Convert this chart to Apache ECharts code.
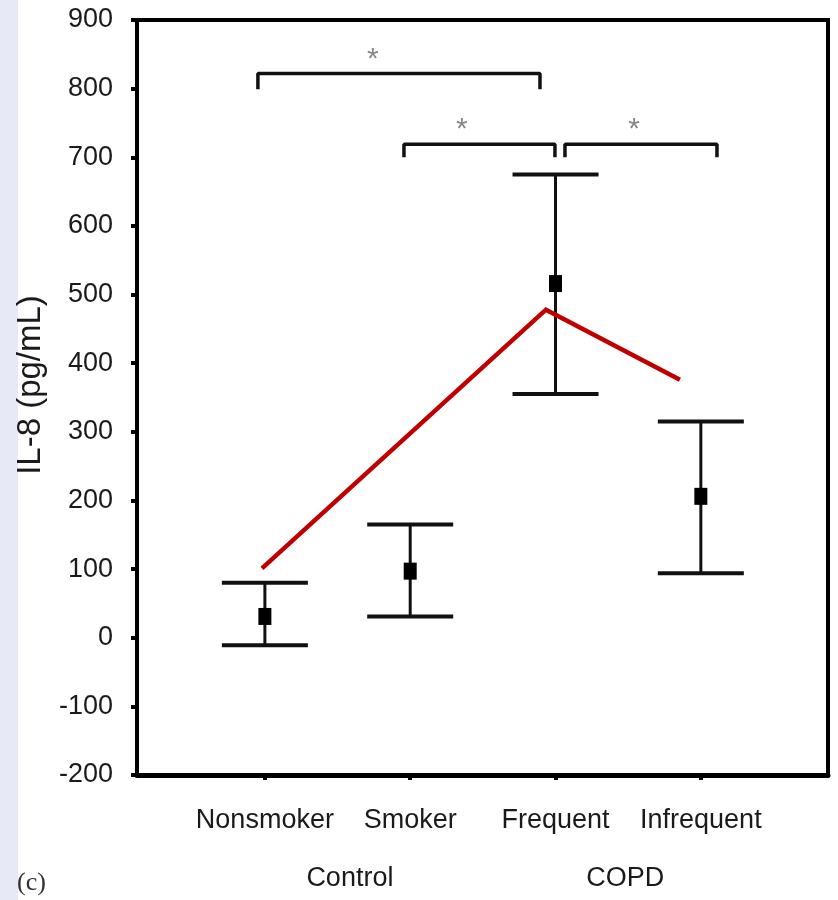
<!DOCTYPE html>
<html>
<head>
<meta charset="utf-8">
<script src="https://cdn.jsdelivr.net/npm/echarts@6/dist/echarts.min.js"></script>
<style>
  html, body { margin: 0; padding: 0; background: #ffffff; }
  #chart { width: 838px; height: 900px; }
</style>
</head>
<body>
<div id="chart"></div>
<script>
// ---- data ----
const categories = ['Nonsmoker', 'Smoker', 'Frequent', 'Infrequent'];
const catPos = [0, 1, 2, 3];
const means = [31, 97, 516, 206];
const lowErr = [-11, 31, 355, 94];
const highErr = [80, 165, 675, 315];
const groupLabels = ['Control', 'COPD'];
const groupLabelPos = [0.585, 2.48];
const yTicks = [-200, -100, 0, 100, 200, 300, 400, 500, 600, 700, 800, 900];
// red overlay line
const redX = [-0.02, 1.934, 2.856];
const redY = [101, 478, 376];
// significance brackets: [xStart, xEnd, yTop, yTickEnd]
const brackets = [
  [-0.048, 1.893, 822, 799],
  [0.957, 1.996, 719, 700],
  [2.065, 3.111, 719, 700]
];
const starX = [0.743, 1.356, 2.54];
const starY = [842, 740, 740];

const chart = echarts.init(document.getElementById('chart'), null, { renderer: 'canvas' });
const FONT = 'Liberation Sans, Arial, sans-serif';

const bracketSeries = brackets.map(b => ({
  type: 'line',
  symbol: 'none',
  silent: true,
  lineStyle: { color: '#111', width: 3.5 },
  data: [[b[0], b[3]], [b[0], b[2]], [b[1], b[2]], [b[1], b[3]]],
  z: 3
}));

const option = {
  animation: false,
  backgroundColor: '#ffffff',
  grid: {
    left: 137, right: 10, top: 20, bottom: 125,
    show: true, borderColor: '#000', borderWidth: 4, backgroundColor: 'transparent'
  },
  xAxis: [{
    type: 'value',
    min: -0.88, max: 3.875,
    splitLine: { show: false },
    axisLine: { show: true, onZero: false, lineStyle: { color: '#000', width: 5 } },
    axisTick: { show: true, customValues: catPos, length: 5, inside: false, lineStyle: { color: '#000', width: 4 } },
    axisLabel: {
      customValues: catPos,
      formatter: v => categories[Math.round(v)],
      fontFamily: FONT, fontSize: 27, color: '#1a1a1a', margin: 32
    }
  }, {
    type: 'value',
    position: 'bottom',
    min: -0.88, max: 3.875,
    splitLine: { show: false },
    axisLine: { show: false },
    axisTick: { show: false },
    axisLabel: {
      customValues: groupLabelPos,
      formatter: v => groupLabels[groupLabelPos.indexOf(v)],
      fontFamily: FONT, fontSize: 27, color: '#1a1a1a', margin: 90
    }
  }],
  yAxis: {
    type: 'value',
    min: -200, max: 900, interval: 100,
    splitLine: { show: false },
    axisLine: { show: true, onZero: false, lineStyle: { color: '#000', width: 4 } },
    axisTick: { show: true, length: 6, inside: false, lineStyle: { color: '#000', width: 4 } },
    axisLabel: {
      fontFamily: FONT, fontSize: 27, color: '#1a1a1a', margin: 24,
      formatter: v => (yTicks.indexOf(v) >= 0 ? String(v) : '')
    }
  },
  graphic: [
    { type: 'rect', left: 0, top: 0, z: -10, shape: { width: 18, height: 900 }, style: { fill: '#e7e9f6' } },
    { type: 'text', x: 31, y: 385, rotation: Math.PI / 2, z: 10,
      style: { text: 'IL-8 (pg/mL)', font: '33px Liberation Sans, Arial, sans-serif', fill: '#1a1a1a', align: 'center', verticalAlign: 'middle' } },
    { type: 'text', x: 17, y: 883, z: 10,
      style: { text: '(c)', font: '26px Liberation Serif, Times New Roman, serif', fill: '#333', align: 'left', verticalAlign: 'middle' } }
  ],
  series: [
    {
      type: 'custom',
      silent: true,
      z: 2,
      data: catPos.map((x, i) => [x, lowErr[i], highErr[i]]),
      renderItem: (params, api) => {
        const x = api.value(0);
        const pLo = api.coord([x, api.value(1)]);
        const pHi = api.coord([x, api.value(2)]);
        const hw = 43;
        return {
          type: 'group',
          children: [
            { type: 'line', shape: { x1: pLo[0], y1: pLo[1], x2: pHi[0], y2: pHi[1] }, style: { stroke: '#111', lineWidth: 3 } },
            { type: 'line', shape: { x1: pLo[0] - hw, y1: pLo[1], x2: pLo[0] + hw, y2: pLo[1] }, style: { stroke: '#111', lineWidth: 4 } },
            { type: 'line', shape: { x1: pHi[0] - hw, y1: pHi[1], x2: pHi[0] + hw, y2: pHi[1] }, style: { stroke: '#111', lineWidth: 4 } }
          ]
        };
      }
    },
    {
      type: 'scatter',
      symbol: 'rect',
      symbolSize: [13, 17],
      itemStyle: { color: '#000', opacity: 1 },
      silent: true,
      z: 3,
      data: catPos.map((x, i) => [x, means[i]])
    },
    ...bracketSeries,
    {
      type: 'scatter',
      symbolSize: 0,
      silent: true,
      z: 4,
      label: { show: true, position: 'inside', formatter: '*', color: '#6a6a6a', fontFamily: FONT, fontSize: 30 },
      data: starX.map((x, i) => [x, starY[i]])
    },
    {
      type: 'line',
      symbol: 'none',
      silent: true,
      z: 5,
      lineStyle: { color: '#c00000', width: 4.5, cap: 'butt', join: 'miter' },
      data: redX.map((x, i) => [x, redY[i]])
    }
  ]
};
chart.setOption(option);
</script>
</body>
</html>
